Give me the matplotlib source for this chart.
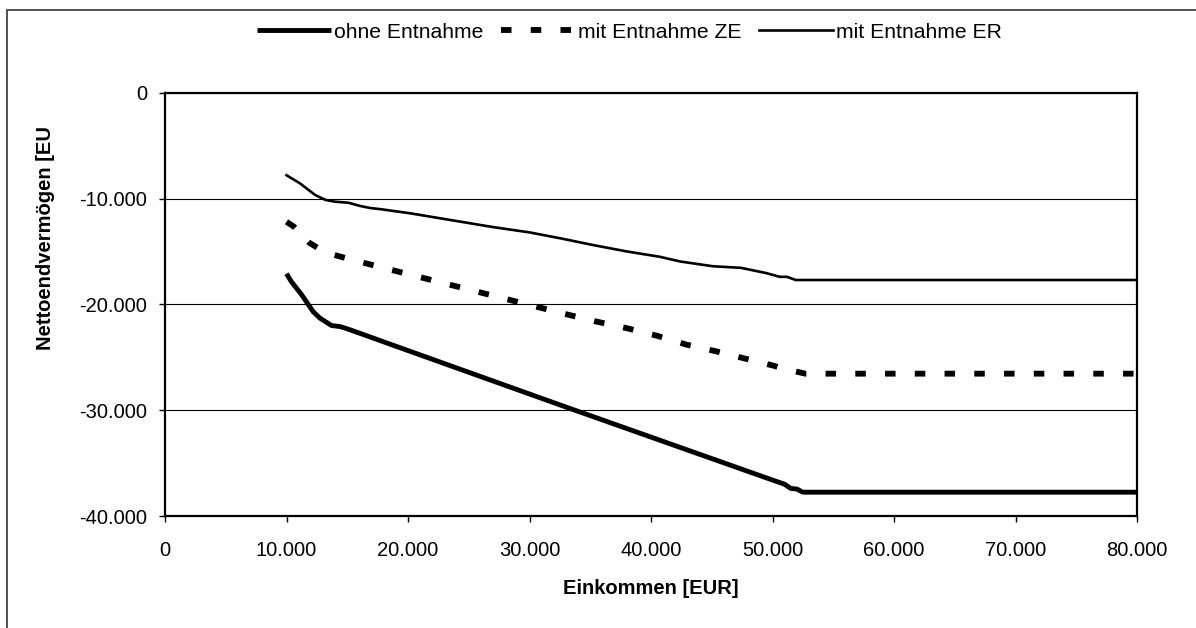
import matplotlib
matplotlib.use("Agg")
import matplotlib.pyplot as plt
from matplotlib.patches import Rectangle
from matplotlib.ticker import FuncFormatter, MultipleLocator

plt.rcParams['font.family'] = ['Liberation Sans', 'DejaVu Sans']

# Einkommen [EUR] / Nettoendvermoegen [EUR]
ohne_x = [10000, 10400, 11250, 12200, 12750, 13700, 14400, 15100, 20200,
          32500, 49500, 51000, 51500, 52000, 52500, 80000]
ohne_y = [-17100, -17850, -19100, -20700, -21300, -22000, -22100, -22350, -24450,
          -29500, -36400, -37000, -37400, -37450, -37750, -37750]

ze_x = [10000, 10600, 11900, 13200, 15100, 17800, 32900, 35400, 38000, 40500,
        42900, 45400, 48000, 50100, 50600, 52700, 80000]
ze_y = [-12200, -12650, -14200, -15100, -15700, -16500, -20900, -21600, -22250, -22970,
        -23800, -24450, -25200, -25800, -26000, -26550, -26550]

er_x = [10000, 11100, 12350, 13200, 14000, 15100, 16050, 16900, 17700, 20200, 27000,
        30000, 32500, 35250, 38000, 40700, 42400, 45100, 47400, 49500, 50600, 51200,
        51900, 80000]
er_y = [-7800, -8560, -9660, -10130, -10300, -10400, -10700, -10900, -11000, -11400, -12700,
        -13200, -13750, -14400, -15000, -15500, -15950, -16400, -16550, -17050, -17400, -17400,
        -17700, -17700]

labels = ['ohne Entnahme', 'mit Entnahme ZE', 'mit Entnahme ER']

W, H = 1196, 628
fig = plt.figure(figsize=(W / 100, H / 100), dpi=100)

# plot area in pixels
left, right, top, bottom = 165, 1137, 92.7, 516
ax = fig.add_axes([left / W, 1 - bottom / H, (right - left) / W, (bottom - top) / H])

l1, = ax.plot(ohne_x, ohne_y, color='black', lw=3.5, solid_capstyle='butt')
l2, = ax.plot(ze_x, ze_y, color='black', lw=4.2, dashes=(1.8, 3.3))
l3, = ax.plot(er_x, er_y, color='black', lw=1.9)

ax.set_xlim(0, 80000)
ax.set_ylim(-40000, 0)
ax.xaxis.set_major_locator(MultipleLocator(10000))
ax.yaxis.set_major_locator(MultipleLocator(10000))
fmt = FuncFormatter(lambda v, p: f"{v:,.0f}".replace(',', '.'))
ax.xaxis.set_major_formatter(fmt)
ax.yaxis.set_major_formatter(fmt)

ax.grid(axis='y', color='black', lw=0.8)
ax.set_axisbelow(True)
for s in ax.spines.values():
    s.set_linewidth(1.6)
ax.tick_params(axis='both', direction='out', length=4, width=1, labelsize=14.5)
ax.tick_params(axis='y', pad=9)
ax.tick_params(axis='x', pad=14)

ax.set_xlabel('Einkommen [EUR]', fontsize=14.5, fontweight='bold', labelpad=14)
fig.text(46 / W, 1 - 350 / H, 'Nettoendvermögen [EU', rotation=90, ha='center',
         va='bottom', fontsize=14.5, fontweight='bold')

fig.legend([l1, l2, l3], labels, loc='center left',
           bbox_to_anchor=(257 / W, 1 - 32 / H), ncol=3, frameon=False,
           fontsize=15.2, handlelength=3.5, handletextpad=0.13,
           columnspacing=0.85, borderpad=0, borderaxespad=0)

# outer chart frame, cut at right and bottom
fig.add_artist(Rectangle((7 / W, -0.2), 1.2, 1.2 - 10 / H, transform=fig.transFigure,
                         fill=False, edgecolor='#333333', lw=1.2))

fig.savefig('out.png', dpi=100)
